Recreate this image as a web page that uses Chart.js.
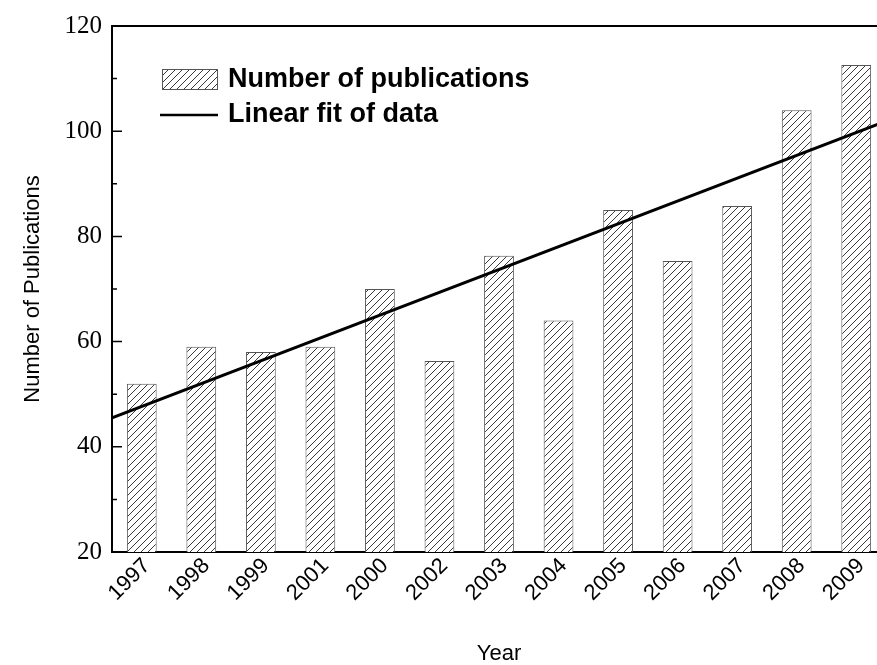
<!DOCTYPE html>
<html>
<head>
<meta charset="utf-8">
<script src="https://cdn.jsdelivr.net/npm/chart.js@4.4.0/dist/chart.umd.min.js"></script>
<style>
  html, body { margin: 0; padding: 0; background: #fff; }
  #wrap { width: 877px; height: 665px; overflow: hidden; position: relative; }
  #chart { display: block; }
</style>
</head>
<body>
<div id="wrap"><canvas id="chart" width="890" height="665"></canvas></div>
<script>
// datos
const years = ['1997', '1998', '1999', '2001', '2000', '2002', '2003', '2004', '2005', '2006', '2007', '2008', '2009'];
const publications = [52, 59, 58, 59, 70, 56.3, 76.3, 64, 85, 75.3, 85.8, 104, 112.6];
// recta de ajuste: extremos en el borde izquierdo y derecho del area
const fitX = [-0.5, 12.5];
const fitY = [45.5, 101.9];
const yTicks = [20, 40, 60, 80, 100, 120];

const SANS = '"Liberation Sans", Arial, sans-serif';
const SERIF = '"Liberation Serif", "Times New Roman", serif';

// patron de rayado diagonal
function makeHatch() {
    const s = 7;
    const c = document.createElement('canvas');
    c.width = s; c.height = s;
    const g = c.getContext('2d');
    g.fillStyle = '#fff';
    g.fillRect(0, 0, s, s);
    g.strokeStyle = '#222';
    g.lineWidth = 0.9;
    g.beginPath();
    g.moveTo(0, s); g.lineTo(s, 0);
    g.moveTo(-1, 1); g.lineTo(1, -1);
    g.moveTo(s - 1, s + 1); g.lineTo(s + 1, s - 1);
    g.stroke();
    return g.createPattern(c, 'repeat');
}
const hatch = makeHatch();

// marco superior, marcas hacia dentro y leyenda
const framePlugin = {
    id: 'frame',
    afterDraw(chart) {
        const ctx = chart.ctx;
        const a = chart.chartArea;
        const y = chart.scales.y;
        ctx.save();
        ctx.strokeStyle = '#000';
        ctx.lineWidth = 2;
        ctx.beginPath();
        ctx.moveTo(a.left - 1, a.top);
        ctx.lineTo(a.right + 10, a.top);
        ctx.stroke();

        // marcas del eje y (mayores y menores)
        ctx.lineWidth = 1.5;
        ctx.beginPath();
        for (let i = 0; i < yTicks.length; i++) {
            const py = y.getPixelForValue(yTicks[i]);
            ctx.moveTo(a.left, py); ctx.lineTo(a.left + 10, py);
            if (i < yTicks.length - 1) {
                const pm = y.getPixelForValue((yTicks[i] + yTicks[i + 1]) / 2);
                ctx.moveTo(a.left, pm); ctx.lineTo(a.left + 5, pm);
            }
        }
        ctx.stroke();

        // leyenda
        const ds = chart.data.datasets;
        ctx.fillStyle = hatch;
        ctx.fillRect(162, 69, 56, 21);
        ctx.lineWidth = 1;
        ctx.strokeStyle = '#555';
        ctx.strokeRect(162.5, 69.5, 55, 20);
        ctx.strokeStyle = '#000';
        ctx.lineWidth = 2.5;
        ctx.beginPath();
        ctx.moveTo(160, 115); ctx.lineTo(218, 115);
        ctx.stroke();
        ctx.fillStyle = '#000';
        ctx.font = 'bold 27px ' + SANS;
        ctx.textBaseline = 'middle';
        ctx.textAlign = 'left';
        ctx.fillText(ds[0].label, 228, 80);
        ctx.fillText(ds[1].label, 228, 115);
        ctx.restore();
    }
};

new Chart(document.getElementById('chart'), {
    data: {
        labels: years,
        datasets: [{
            type: 'bar',
            label: 'Number of publications',
            data: publications,
            backgroundColor: hatch,
            borderColor: '#555',
            borderWidth: 1,
            grouped: false,
            categoryPercentage: 1,
            barPercentage: 0.5,
            order: 2
        }, {
            type: 'line',
            label: 'Linear fit of data',
            data: fitX.map((x, i) => ({ x: x, y: fitY[i] })),
            xAxisID: 'xFit',
            borderColor: '#000',
            borderWidth: 3,
            pointRadius: 0,
            fill: false,
            order: 1
        }]
    },
    plugins: [framePlugin],
    options: {
        responsive: false,
        animation: false,
        devicePixelRatio: 1,
        layout: { padding: { top: 26, right: 4, left: 0, bottom: 0 } },
        plugins: {
            legend: { display: false },
            tooltip: { enabled: false }
        },
        scales: {
            x: {
                type: 'category',
                offset: true,
                grid: { display: false, drawTicks: false },
                border: { display: true, color: '#000', width: 2 },
                ticks: {
                    color: '#000',
                    font: { family: SANS, size: 22 },
                    minRotation: 45,
                    maxRotation: 45,
                    labelOffset: 5,
                    padding: 1
                },
                title: {
                    display: true,
                    text: 'Year',
                    color: '#000',
                    font: { family: SANS, size: 22, lineHeight: 1 },
                    padding: { bottom: 0 }
                },
                afterFit(scale) { scale.height = 113; }
            },
            xFit: {
                type: 'linear',
                display: false,
                min: -0.5,
                max: 12.5
            },
            y: {
                min: 20,
                max: 120,
                grid: { display: false, drawTicks: false },
                border: { display: true, color: '#000', width: 2 },
                ticks: {
                    stepSize: 20,
                    color: '#000',
                    font: { family: SERIF, size: 25 },
                    padding: 10
                },
                title: {
                    display: true,
                    text: 'Number of Publications',
                    color: '#000',
                    font: { family: SANS, size: 22 },
                    padding: { top: 20 }
                },
                afterFit(scale) { scale.width = 112; }
            }
        }
    }
});
</script>
</body>
</html>
